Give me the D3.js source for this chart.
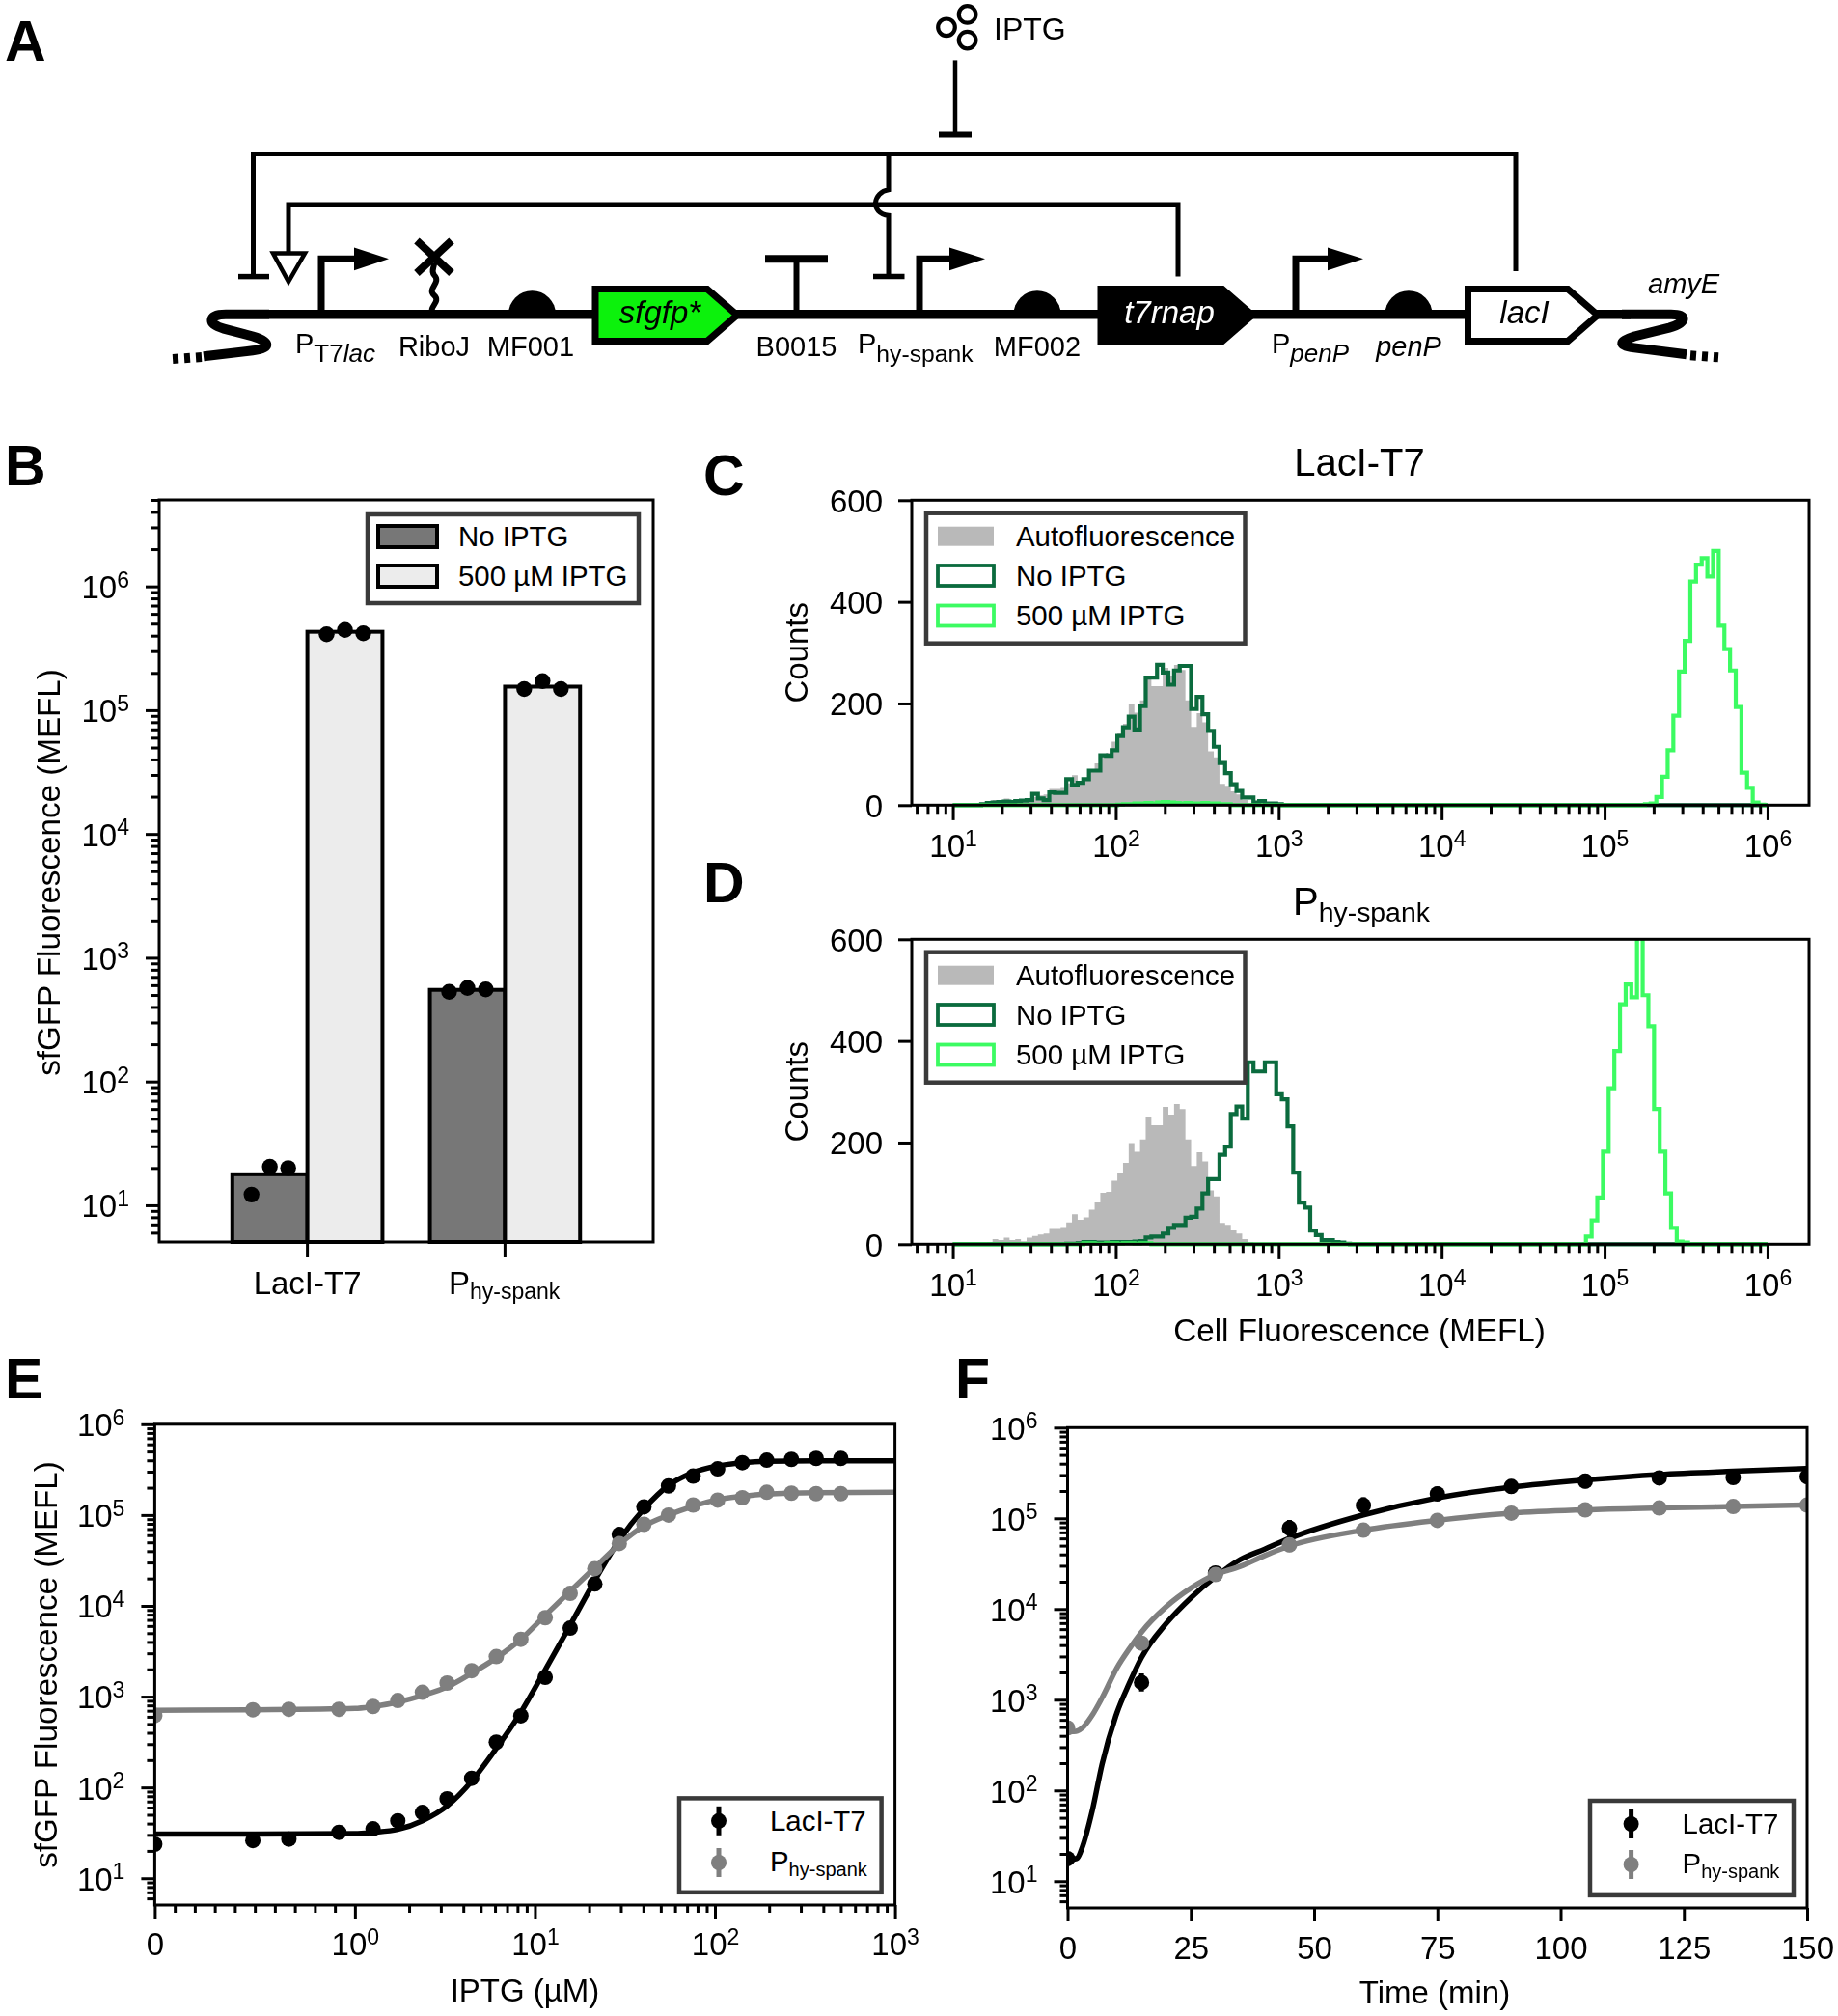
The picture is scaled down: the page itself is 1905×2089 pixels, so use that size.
<!DOCTYPE html>
<html>
<head>
<meta charset="utf-8">
<script src="https://d3js.org/d3.v7.min.js"></script>
<style>
  body { margin: 0; background: #fff; }
  svg { filter: blur(0.5px); }
  text { font-family: "Liberation Sans", Arial, sans-serif; fill: #000; }
</style>
</head>
<body>
<script>
// panel B
const strains = ["LacI-T7", "Phy-spank"];
const conditions = ["No IPTG", "500 µM IPTG"];
const barNoIptg = [17.8, 550];
const barIptg = [430000, 155000];
const dotsNoIptg = [[12.2, 20.5, 20], [530, 570, 555]];
const dotsIptg = [[410000, 445000, 418000], [148000, 172000, 148000]];

// panels C and D, counts per histogram bin
const binsPerDecade = 28.72;
const autoStart = 6;
const autoCounts = [4, 10, 8, 13, 8, 10, 6, 13, 16, 19, 21, 32, 32, 34, 43, 59, 48, 53, 68, 82, 101, 103, 125, 141, 160, 199, 182, 206, 251, 234, 234, 270, 255, 276, 266, 206, 154, 181, 163, 106, 94, 42, 38, 27, 21, 10, 4, 2];
const cNoStart = 5;
const cNoCounts = [2, 4, 5, 6, 7, 6, 8, 9, 10, 22, 13, 10, 25, 24, 24, 51, 40, 44, 51, 68, 68, 98, 97, 108, 136, 153, 174, 149, 195, 251, 251, 276, 261, 237, 265, 274, 274, 189, 213, 179, 146, 115, 83, 63, 41, 28, 15, 15, 5, 8, 3, 3, 2];
const cHighLowStart = 29;
const cHighLow = [1, 2, 2, 3, 3, 4, 3, 5, 6, 5, 4, 3, 4, 3, 3, 4, 3, 3, 2, 2];
const cHighStart = 122;
const cHighCounts = [2, 3, 16, 56, 108, 176, 263, 323, 440, 473, 486, 450, 500, 353, 307, 265, 193, 64, 34, 5, 1];
const dNoStart = 20;
const dNoCounts = [1, 1, 2, 4, 4, 3, 3, 3, 4, 4, 4, 4, 5, 6, 13, 15, 15, 21, 32, 38, 38, 52, 54, 70, 100, 128, 128, 176, 192, 256, 271, 247, 358, 340, 340, 358, 358, 295, 285, 232, 141, 82, 72, 27, 18, 8, 8, 4, 3, 1];
const dHighLowStart = 23;
const dHighLow = [2, 2, 1, 1, 2, 2, 1, 2, 2, 1, 2, 2];
const dHighStart = 111.6;
const dHighCounts = [15, 47, 92, 182, 307, 380, 472, 511, 486, 620, 490, 429, 266, 182, 100, 32, 5, 3];

// panel E
const iptgDoses = [0, 0.49, 0.67, 0.92, 1.26, 1.73, 2.37, 3.25, 4.45, 6.1, 8.35, 11.4, 15.7, 21.5, 29.4, 40.3, 55.2, 75.6, 103.5, 142, 194, 266, 365, 500];
const eLac = [23.7, 26, 27, 32, 35, 43, 53, 75, 126, 315, 615, 1630, 5680, 17400, 61000, 123000, 209000, 268000, 322000, 377000, 402000, 410000, 420000, 420000];
const ePhy = [620, 716, 725, 725, 780, 907, 1115, 1410, 1930, 2760, 4280, 7400, 13700, 25700, 48500, 79000, 100000, 129000, 146000, 155000, 178000, 174000, 172000, 172000];
const eLacErr = [0.07, 0.06, 0.06, 0.05, 0.06, 0.06, 0.06, 0.06, 0.06, 0.06, 0.06, 0.06, 0.06, 0.06, 0.06, 0.06, 0.05, 0.06, 0.06, 0.05, 0.05, 0.05, 0.05, 0.05];
const ePhyErr = [0.08, 0.05, 0.05, 0.05, 0.05, 0.05, 0.05, 0.05, 0.05, 0.06, 0.06, 0.06, 0.06, 0.06, 0.06, 0.05, 0.05, 0.05, 0.05, 0.05, 0.05, 0.05, 0.05, 0.05];
const eFitDoses = [0, 0.5, 1, 1.26, 1.73, 2.37, 3.25, 4.45, 6.1, 8.35, 11.4, 15.7, 21.5, 29.4, 40.3, 55.2, 75.6, 103.5, 142, 194, 365, 1000];
const eFitLac = [30.7, 30.7, 31, 32, 34.5, 43, 62.5, 117, 269, 671, 1970, 6120, 19000, 52800, 117000, 212000, 294000, 347000, 377000, 390000, 394000, 394000];
const eFitPhy = [708, 716, 740, 780, 871, 1030, 1280, 1810, 2670, 4280, 7850, 14500, 26300, 47500, 75500, 100000, 125000, 148000, 161000, 170000, 176000, 178000];

// panel F
const times = [0, 15, 30, 45, 60, 75, 90, 105, 120, 135, 150];
const fLac = [17.7, 1550, 25000, 78000, 139000, 186000, 224000, 257000, 279000, 282000, 288000];
const fPhy = [490, 4200, 24000, 51000, 74000, 95000, 114000, 124000, 130000, 135000, 140000];
const fLacErr = [0.07, 0.1, 0.06, 0.09, 0.09, 0.08, 0.08, 0.08, 0.08, 0.07, 0.08];
const fPhyErr = [0.07, 0.07, 0.07, 0.08, 0.07, 0.06, 0.07, 0.07, 0.07, 0.07, 0.06];
const fFitTimes = [0, 1, 2, 3, 5, 7, 10, 12.5, 15, 20, 25, 30, 35, 40, 45, 60, 75, 90, 105, 120, 135, 150];
const fFitLac = [15.4, 17.2, 18, 23.8, 59.6, 195, 715, 1510, 2920, 6920, 13300, 22700, 35000, 45800, 60000, 109000, 168000, 221000, 265000, 304000, 330000, 353000];
const fFitPhy = [440, 445, 454, 490, 676, 1050, 2240, 3630, 5570, 10600, 17000, 24000, 29500, 38900, 49500, 74000, 95000, 114000, 124000, 130000, 135000, 140000];

const histLegend = ["Autofluorescence", "No IPTG", "500 µM IPTG"];

const BLACK = "#000", GRAY = "#7f7f7f";
const DARK_GREEN = "#0b6b3e", LIGHT_GREEN = "#3cfb62", AUTO_GRAY = "#b9b9b9";
const BAR_DARK = "#777", BAR_LIGHT = "#ececec";
const LOG_FONT = 33, SUP_FONT = 23, LABEL_FONT = 33, LEGEND_FONT = 29.4;

const svg = d3.select("body").append("svg").attr("width", 1905).attr("height", 2089);

function label(x, y, str, size, opts = {}) {
  return svg.append("text").attr("x", x).attr("y", y).attr("font-size", size)
    .attr("text-anchor", opts.anchor || "start")
    .attr("font-style", opts.italic ? "italic" : null)
    .attr("font-weight", opts.bold ? "bold" : null)
    .style("fill", opts.fill || BLACK)
    .text(str);
}

function subLabel(parent, x, y, main, sub, size, subSize, drop, italicSub) {
  const t = parent.append("text").attr("x", x).attr("y", y).attr("font-size", size).text(main);
  t.append("tspan").attr("font-size", subSize).attr("dy", drop)
    .attr("font-style", italicSub ? "italic" : null).text(sub);
  return t;
}

function rotated(x, y, str, size) {
  return label(0, 0, str, size, { anchor: "middle" }).attr("transform", `translate(${x},${y}) rotate(-90)`);
}

function minorLog(lo, hi) {
  const out = [];
  for (let e = 0; e <= 7; e++) d3.range(2, 10).forEach(m => out.push(m * 10 ** e));
  return out.filter(v => v >= lo && v <= hi);
}

function expText(sel, dy) {
  sel.selectAll(".tick text").each(function (d) {
    const t = d3.select(this).attr("font-size", LOG_FONT).attr("dy", dy).text("10");
    t.append("tspan").attr("font-size", SUP_FONT).attr("dy", "-0.5em").text(Math.round(Math.log10(d)));
  });
}

function styleAxis(g) {
  g.select(".domain").remove();
  g.selectAll(".tick line").attr("stroke", BLACK).attr("stroke-width", 3);
  g.selectAll(".tick text").style("fill", BLACK);
  return g;
}

function leftLog(y, x0, lo, hi, ticks) {
  styleAxis(svg.append("g").attr("transform", `translate(${x0},0)`)
    .call(d3.axisLeft(y).tickValues(minorLog(lo, hi)).tickSize(8).tickFormat("")));
  const g = styleAxis(svg.append("g").attr("transform", `translate(${x0},0)`)
    .call(d3.axisLeft(y).tickValues(ticks).tickSize(14).tickPadding(17)));
  expText(g, "0.36em");
}

function box(x0, y0, x1, y1) {
  svg.append("rect").attr("x", x0).attr("y", y0).attr("width", x1 - x0).attr("height", y1 - y0)
    .attr("fill", "none").attr("stroke", BLACK).attr("stroke-width", 3);
}

function legendFrame(x0, y0, x1, y1) {
  svg.append("rect").attr("x", x0).attr("y", y0).attr("width", x1 - x0).attr("height", y1 - y0)
    .attr("fill", "#fff").attr("stroke", "#3a3a3a").attr("stroke-width", 4.5);
}

// ---------- panel letters ----------
[["A", 5, 63], ["B", 5, 503], ["C", 729, 513], ["D", 729, 935], ["E", 5, 1449], ["F", 990, 1449]]
  .forEach(d => label(d[1], d[2], d[0], 59, { bold: true }));

// ---------- panel A, genetic circuit ----------
function ln(x1, y1, x2, y2, w) {
  svg.append("line").attr("x1", x1).attr("y1", y1).attr("x2", x2).attr("y2", y2)
    .attr("stroke", BLACK).attr("stroke-width", w);
}
function stroke(d, w) {
  return svg.append("path").attr("d", d).attr("fill", "none").attr("stroke", BLACK)
    .attr("stroke-width", w).attr("stroke-linejoin", "miter");
}
const spineY = 325.7;
function promoter(x, tail, tip) {
  stroke(`M${x},${spineY}V268.3H${tail}`, 7);
  svg.append("path").attr("d", `M${tail},256.4L${tip},268.3L${tail},280.2Z`).attr("fill", BLACK);
}
function rbs(cx) {
  svg.append("path").attr("d", `M${cx - 24.5},${spineY}A24.5,24.5 0 0 1 ${cx + 24.5},${spineY}Z`).attr("fill", BLACK);
}
function cds(x0, shoulder, tip, fill) {
  svg.append("path").attr("d", `M${x0},299.5H${shoulder}L${tip},326.5L${shoulder},353.5H${x0}Z`)
    .attr("fill", fill).attr("stroke", BLACK).attr("stroke-width", 7).attr("stroke-linejoin", "miter");
}

stroke("M279,325.7H234C216,325.7 214,335.6 232,340.6L262,348.5C282,354.4 280,361.4 262,363.3L211,369.3", 10);
stroke("M209,370L178,372", 10).attr("stroke-dasharray", "6 6");
ln(279, spineY, 1690, spineY, 9.5);
stroke("M1681,325.7H1732C1750,325.7 1748,334.6 1730,339.6L1694,348.5C1676,354.4 1678,358.4 1694,360.4L1748,367.3", 10);
stroke("M1752,368.3L1781,370.3", 10).attr("stroke-dasharray", "6 6");

promoter(333, 367, 403);
promoter(953, 984, 1021);
promoter(1343, 1376, 1413);
rbs(551.5); rbs(1075); rbs(1460);
cds(617, 733, 764, "#0cf20c");
cds(1141, 1267, 1298, BLACK);
cds(1521.5, 1625, 1656, "#fff");

// RiboJ
stroke("M450,325C442,319 458,313 450,306C442,299 458,293 450,285C446,280 451,276 450,272", 6);
stroke("M432,249.5L468,283", 8);
stroke("M468,249.5L432,283", 8);

// terminator
ln(825.5, spineY, 825.5, 268.3, 6);
ln(793, 268.3, 858, 268.3, 8);

// regulation lines
stroke("M262.5,286.6V159.4H1571V281", 5);
ln(247, 286.6, 279, 286.6, 5.5);
stroke("M299,263V212H1221V286.6", 5);
svg.append("path").attr("d", "M283,262.5H316L299,292Z").attr("fill", "#fff").attr("stroke", BLACK).attr("stroke-width", 4.5);
stroke("M921,159.4V196.7C905,199 901,221 921,223.3V286.6", 5);
ln(905, 286.6, 937.5, 286.6, 5.5);
ln(990, 62.4, 990, 139.6, 4.5);
ln(973, 139.6, 1007, 139.6, 6);
[[981, 28.3], [1002.6, 14.9], [1002.6, 41.6]].forEach(c =>
  svg.append("circle").attr("cx", c[0]).attr("cy", c[1]).attr("r", 8.8)
    .attr("fill", "none").attr("stroke", BLACK).attr("stroke-width", 4.2));
label(1030, 41, "IPTG", 32);

label(684, 334.6, "sfgfp*", 33, { anchor: "middle", italic: true });
label(1212, 334.6, "t7rnap", 33, { anchor: "middle", italic: true, fill: "#fff" });
label(1580, 334.6, "lacI", 33, { anchor: "middle", italic: true });
label(1708, 304, "amyE", 29, { italic: true });
label(450, 369.3, "RiboJ", 29, { anchor: "middle" });
label(550, 369.3, "MF001", 29, { anchor: "middle" });
label(825.5, 369.3, "B0015", 29, { anchor: "middle" });
label(1075, 369.3, "MF002", 29, { anchor: "middle" });
label(1460, 369.3, "penP", 29, { anchor: "middle", italic: true });
const t7lacLabel = subLabel(svg, 306, 366.3, "P", "T7", 29, 26, 9, false);
t7lacLabel.append("tspan").attr("font-size", 26).attr("font-style", "italic").text("lac");
subLabel(svg, 889, 366.3, "P", "hy-spank", 29, 24.7, 9, false);
subLabel(svg, 1318, 366.3, "P", "penP", 29, 26, 9, true);

// ---------- panel B ----------
const bLeft = 165, bRight = 677, bTop = 518, bBottom = 1287;
const xB = d3.scaleBand().domain(strains).range([bLeft, bRight]).paddingInner(0.24).paddingOuter(0.37);
const xBInner = d3.scaleBand().domain(conditions).range([0, xB.bandwidth()]);
const yB = d3.scaleLog().domain([5.05, 5e6]).range([bBottom, bTop]);

[[barNoIptg, BAR_DARK, conditions[0]], [barIptg, BAR_LIGHT, conditions[1]]].forEach(([vals, fill, cond]) => {
  svg.append("g").selectAll("rect").data(vals).join("rect")
    .attr("x", (d, i) => xB(strains[i]) + xBInner(cond))
    .attr("y", d => yB(d))
    .attr("width", xBInner.bandwidth())
    .attr("height", d => bBottom - yB(d))
    .attr("fill", fill).attr("stroke", BLACK).attr("stroke-width", 4);
});
[[dotsNoIptg, conditions[0]], [dotsIptg, conditions[1]]].forEach(([dots, cond]) => {
  dots.forEach((reps, i) => {
    const cx = xB(strains[i]) + xBInner(cond) + xBInner.bandwidth() / 2;
    svg.append("g").selectAll("circle").data(reps).join("circle")
      .attr("cx", (d, j) => cx + (j - 1) * 19)
      .attr("cy", d => yB(d))
      .attr("r", 8.2).attr("fill", BLACK);
  });
});
leftLog(yB, bLeft, 5.05, 5e6, [10, 100, 1e3, 1e4, 1e5, 1e6]);
box(bLeft, bTop, bRight, bBottom);
styleAxis(svg.append("g").attr("transform", `translate(0,${bBottom})`)
  .call(d3.axisBottom(xB).tickValues(strains).tickSize(15).tickFormat("")));
label(xB(strains[0]) + xB.bandwidth() / 2, 1341, "LacI-T7", LABEL_FONT, { anchor: "middle" });
subLabel(svg, 465, 1341, "P", "hy-spank", LABEL_FONT, 23, 5, false);
rotated(62, 904, "sfGFP Fluorescence (MEFL)", 33.2);

legendFrame(381, 533, 662, 625);
conditions.forEach((c, i) => {
  const py = [545, 586][i];
  svg.append("rect").attr("x", 392).attr("y", py).attr("width", 61).attr("height", 22)
    .attr("fill", i ? BAR_LIGHT : BAR_DARK).attr("stroke", BLACK).attr("stroke-width", 4);
  label(475, py + 21, c, LEGEND_FONT);
});

// ---------- panels C and D ----------
const edgeAt = k => 10 ** (1 + k / binsPerDecade);

function histPoints(segments) {
  const pts = [[10, 0]];
  segments.forEach(([start, counts]) => {
    counts.forEach((c, i) => pts.push([edgeAt(start + i), c]));
    pts.push([edgeAt(start + counts.length), 0]);
  });
  pts.push([1e6, 0]);
  return pts;
}

function histPanel(top, noSegs, highSegs, legendTop) {
  const left = 945, right = 1875, bottom = top + 316;
  const x = d3.scaleLog().domain([10 ** 0.748, 10 ** 6.255]).range([left, right]);
  const y = d3.scaleLinear().domain([0, 600]).range([bottom, top]);
  const clipId = "clip" + top;
  svg.append("clipPath").attr("id", clipId).append("rect")
    .attr("x", left).attr("y", top).attr("width", right - left).attr("height", bottom - top + 3);
  const plot = svg.append("g").attr("clip-path", `url(#${clipId})`);

  plot.append("path").datum(histPoints([[autoStart, autoCounts]]))
    .attr("fill", AUTO_GRAY)
    .attr("d", d3.area().curve(d3.curveStepAfter).x(d => x(d[0])).y0(y(0)).y1(d => y(d[1])));
  const step = d3.line().curve(d3.curveStepAfter).x(d => x(d[0])).y(d => y(d[1]));
  plot.append("path").datum(histPoints(noSegs)).attr("fill", "none")
    .attr("stroke", DARK_GREEN).attr("stroke-width", 4.2).attr("d", step);
  plot.append("path").datum(histPoints(highSegs)).attr("fill", "none")
    .attr("stroke", LIGHT_GREEN).attr("stroke-width", 4.2).attr("d", step);

  box(left, top, right, bottom);
  styleAxis(svg.append("g").attr("transform", `translate(${left},0)`)
    .call(d3.axisLeft(y).tickValues([0, 200, 400, 600]).tickSize(14).tickPadding(16)))
    .selectAll("text").attr("font-size", LABEL_FONT).attr("dy", "0.36em");
  styleAxis(svg.append("g").attr("transform", `translate(0,${bottom})`)
    .call(d3.axisBottom(x).tickValues(minorLog(6, 1e6)).tickSize(9).tickFormat("")));
  const gx = styleAxis(svg.append("g").attr("transform", `translate(0,${bottom})`)
    .call(d3.axisBottom(x).tickValues([10, 100, 1e3, 1e4, 1e5, 1e6]).tickSize(15.6).tickPadding(15)));
  expText(gx, "0.71em");

  rotated(837, top + 158, "Counts", LABEL_FONT);

  legendFrame(960, legendTop, 1290.5, legendTop + 135);
  const off = legendTop - 531.7;
  svg.append("rect").attr("x", 972).attr("y", 545.7 + off).attr("width", 58).attr("height", 20).attr("fill", AUTO_GRAY);
  [[DARK_GREEN, 586], [LIGHT_GREEN, 627.5]].forEach(([col, py]) =>
    svg.append("rect").attr("x", 972).attr("y", py + off).attr("width", 58).attr("height", 21)
      .attr("fill", "#fff").attr("stroke", col).attr("stroke-width", 3.8));
  histLegend.forEach((t, i) => label(1053, [566, 607, 648][i] + off, t, LEGEND_FONT));
}

histPanel(518.3, [[cNoStart, cNoCounts]], [[cHighLowStart, cHighLow], [cHighStart, cHighCounts]], 531.7);
histPanel(973.3, [[dNoStart, dNoCounts]], [[dHighLowStart, dHighLow], [dHighStart, dHighCounts]], 986.7);
label(1409, 493, "LacI-T7", 40, { anchor: "middle" });
subLabel(svg, 1340, 948, "P", "hy-spank", 40, 28.4, 7, false);
label(1409, 1390, "Cell Fluorescence (MEFL)", 33.2, { anchor: "middle" });

// ---------- panel E ----------
const linPart = 1.112;
const symT = v => v <= 1 ? v * linPart : linPart + Math.log10(v);
const eLeft = 160.4, eRight = 927.6, eTop = 1475.8, eBottom = 1974;
const xE = d3.scaleLinear().domain([0, symT(1000)]).range([eLeft, eRight]);
const yE = d3.scaleLog().domain([5.07, 1e6]).range([eBottom, eTop]);

svg.append("clipPath").attr("id", "clipE").append("rect")
  .attr("x", eLeft).attr("y", eTop).attr("width", eRight - eLeft).attr("height", eBottom - eTop);
const plotE = svg.append("g").attr("clip-path", "url(#clipE)");

function errorBars(plot, xs, ys, errs, xPos, yPos, col) {
  plot.append("g").selectAll("line").data(d3.zip(xs, ys, errs)).join("line")
    .attr("x1", d => xPos(d[0])).attr("x2", d => xPos(d[0]))
    .attr("y1", d => yPos(d[1] * 10 ** d[2])).attr("y2", d => yPos(d[1] / 10 ** d[2]))
    .attr("stroke", col).attr("stroke-width", 5);
}

function doseResponse(points, errs, fit, col) {
  plotE.append("path").datum(d3.zip(eFitDoses, fit)).attr("fill", "none")
    .attr("stroke", col).attr("stroke-width", 5.5)
    .attr("d", d3.line().curve(d3.curveMonotoneX).x(d => xE(symT(d[0]))).y(d => yE(d[1])));
  errorBars(plotE, iptgDoses, points, errs, v => xE(symT(v)), yE, col);
  plotE.append("g").selectAll("circle").data(d3.zip(iptgDoses, points)).join("circle")
    .attr("cx", d => xE(symT(d[0]))).attr("cy", d => yE(d[1])).attr("r", 8).attr("fill", col);
}
doseResponse(eLac, eLacErr, eFitLac, BLACK);
doseResponse(ePhy, ePhyErr, eFitPhy, GRAY);

leftLog(yE, eLeft, 5.07, 1e6, [10, 100, 1e3, 1e4, 1e5, 1e6]);
box(eLeft, eTop, eRight, eBottom);
const eMinor = d3.range(1, 10).map(v => v / 10).concat(minorLog(2, 900));
styleAxis(svg.append("g").attr("transform", `translate(0,${eBottom})`)
  .call(d3.axisBottom(xE).tickValues(eMinor.map(symT)).tickSize(8).tickFormat("")));
const eMajor = [0, 1, 10, 100, 1000];
const gxE = styleAxis(svg.append("g").attr("transform", `translate(0,${eBottom})`)
  .call(d3.axisBottom(xE).tickValues(eMajor.map(symT)).tickSize(14).tickPadding(15)));
gxE.selectAll(".tick text").each(function (d, i) {
  const t = d3.select(this).attr("font-size", LOG_FONT).attr("dy", "0.71em");
  if (i === 0) { t.text("0"); return; }
  t.text("10");
  t.append("tspan").attr("font-size", SUP_FONT).attr("dy", "-0.5em").text(Math.round(Math.log10(eMajor[i])));
});
label(544, 2074, "IPTG (µM)", LABEL_FONT, { anchor: "middle" });
rotated(59, 1725, "sfGFP Fluorescence (MEFL)", 33.2);

function markerLegend(x0, y0, x1, y1, mx, my1, my2, tx) {
  legendFrame(x0, y0, x1, y1);
  [[my1, BLACK], [my2, GRAY]].forEach(([my, col]) => {
    svg.append("line").attr("x1", mx).attr("x2", mx).attr("y1", my - 15).attr("y2", my + 15)
      .attr("stroke", col).attr("stroke-width", 5);
    svg.append("circle").attr("cx", mx).attr("cy", my).attr("r", 8).attr("fill", col);
  });
  label(tx, my1 + 10, "LacI-T7", LEGEND_FONT);
  subLabel(svg, tx, my2 + 9, "P", "hy-spank", LEGEND_FONT, 20, 5, false);
}
markerLegend(704, 1863.4, 913.6, 1960.8, 745, 1886.8, 1930, 798);

// ---------- panel F ----------
const fLeft = 1106.5, fRight = 1873, fTop = 1479.3, fBottom = 1977;
const xF = d3.scaleLinear().domain([0, 150]).range([fLeft, fRight]);
const yF = d3.scaleLog().domain([5.07, 1e6]).range([fBottom, fTop]);

svg.append("clipPath").attr("id", "clipF").append("rect")
  .attr("x", fLeft).attr("y", fTop).attr("width", fRight - fLeft).attr("height", fBottom - fTop);
const plotF = svg.append("g").attr("clip-path", "url(#clipF)");

function timeCourse(points, errs, fit, col) {
  plotF.append("path").datum(d3.zip(fFitTimes, fit)).attr("fill", "none")
    .attr("stroke", col).attr("stroke-width", 5.5)
    .attr("d", d3.line().curve(d3.curveMonotoneX).x(d => xF(d[0])).y(d => yF(d[1])));
  errorBars(plotF, times, points, errs, xF, yF, col);
  plotF.append("g").selectAll("circle").data(d3.zip(times, points)).join("circle")
    .attr("cx", d => xF(d[0])).attr("cy", d => yF(d[1])).attr("r", 8).attr("fill", col);
}
timeCourse(fLac, fLacErr, fFitLac, BLACK);
timeCourse(fPhy, fPhyErr, fFitPhy, GRAY);

leftLog(yF, fLeft, 5.07, 1e6, [10, 100, 1e3, 1e4, 1e5, 1e6]);
box(fLeft, fTop, fRight, fBottom);
styleAxis(svg.append("g").attr("transform", `translate(0,${fBottom})`)
  .call(d3.axisBottom(xF).tickValues(d3.range(0, 151, 25)).tickSize(14).tickPadding(15.6)))
  .selectAll("text").attr("font-size", LABEL_FONT);
label(1487, 2076, "Time (min)", LABEL_FONT, { anchor: "middle" });
markerLegend(1648, 1866, 1859, 1963.9, 1690.6, 1890, 1932, 1743.6);
</script>
</body>
</html>
